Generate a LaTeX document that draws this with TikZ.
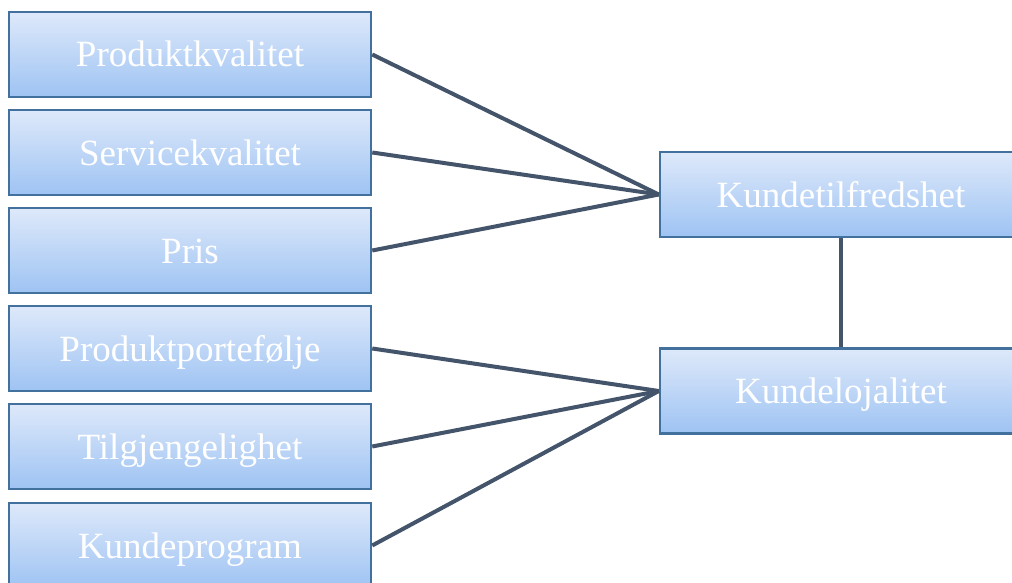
\documentclass[tikz,border=0pt]{standalone}
\usepackage{fontspec}
\setmainfont{Liberation Serif}
\usepackage{tikz}
\usetikzlibrary{positioning}
\definecolor{boxtop}   {HTML}{DEE9FA}
\definecolor{boxbottom}{HTML}{9EC3F3}
\definecolor{boxline}  {HTML}{41719C}
\definecolor{linkdark} {HTML}{44546A}

\begin{document}
\begin{tikzpicture}[
  box/.style ={draw=boxline,line width=2.5pt,top color=boxtop,bottom color=boxbottom,
               minimum width=362pt,minimum height=85pt,inner sep=0pt,
               text height=30pt,text depth=5pt,
               text=white,font=\fontsize{37}{44}\selectfont},
  link/.style={draw=linkdark,line width=4pt},
  x=1pt, y=-1pt
]
\useasboundingbox (0,0) rectangle (1012,583);

%% Left column (x=190, rows every 98)
\node[box] (pk)  at (190, 54.5)  {Produktkvalitet};
\node[box] (sk)  at (190,152.5)  {Servicekvalitet};
\node[box] (pr)  at (190,250.5)  {Pris};
\node[box] (pp)  at (190,348.5)  {Produktportefølje};
\node[box] (tg)  at (190,446.5)  {Tilgjengelighet};
\node[box] (kp)  at (190,545.5)  {Kundeprogram};

%% Right column
\node[box] (kt)  at (841,194.5)  {Kundetilfredshet};
\node[box] (kl)  at (841,391)    {Kundelojalitet};

%% ===== LINKS =====
\foreach \src in {pk,sk,pr}
  \draw[link] (\src.east) -- (kt.west);
\foreach \src in {pp,tg,kp}
  \draw[link] (\src.east) -- (kl.west);

\draw[link] (kt.south) -- (kl.north);

\end{tikzpicture}
\end{document}
